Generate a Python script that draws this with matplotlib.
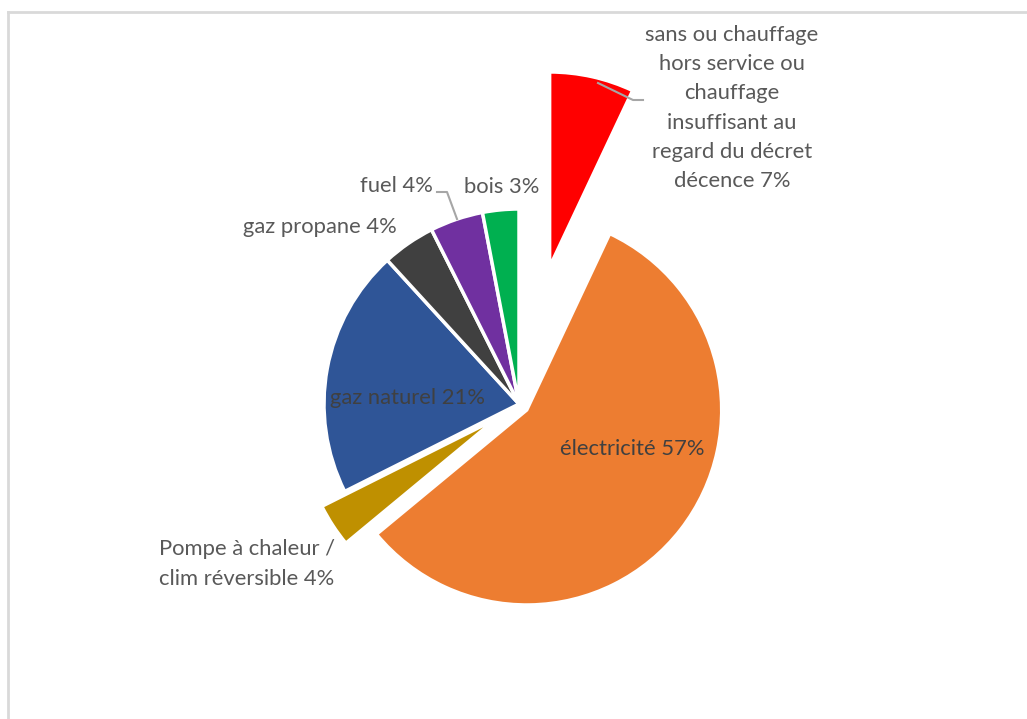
import matplotlib
matplotlib.use("Agg")
import matplotlib.pyplot as plt

# chauffage des logements
labels = [
    "sans ou chauffage\nhors service ou\nchauffage\ninsuffisant au\nregard du décret\ndécence",
    "électricité",
    "Pompe à chaleur /\nclim réversible",
    "gaz naturel",
    "gaz propane",
    "fuel",
    "bois",
]
values = [7.0, 57.0, 3.6, 20.6, 4.4, 4.4, 3.0]
colors = ["#ff0000", "#ed7d31", "#bf9000", "#2f5597", "#404040", "#7030a0", "#00b050"]
explode = [0.72, 0.05, 0.14, 0, 0, 0, 0]

W, H = 1027, 719
CX, CY, R = 519, 404, 195   # pie centre and radius in pixels


def px(x, y):
    return (x - CX) / R, (CY - y) / R


plt.rcParams['font.family'] = ['Lato', 'DejaVu Sans']
fig = plt.figure(figsize=(W / 100, H / 100), dpi=100)
ax = fig.add_axes([0, 0, 1, 1])
ax.axis('off')

wedges, _ = ax.pie(values, colors=colors, explode=explode, startangle=90,
                   counterclock=False, radius=1,
                   wedgeprops=dict(edgecolor='white', linewidth=2.5))
ax.set_xlim(-CX / R, (W - CX) / R)
ax.set_ylim((CY - H) / R, CY / R)

txt = [f"{l} {round(v)}%" for l, v in zip(labels, values)]
tc = "#595959"
fs = 15.8

ax.text(*px(732, 108), txt[0], ha='center', va='center', multialignment='center',
        fontsize=fs, color=tc, linespacing=1.58)
ax.text(*px(632, 449), txt[1], ha='center', va='center', fontsize=fs, color="#404040")
ax.text(*px(159, 564), txt[2], ha='left', va='center', multialignment='left',
        fontsize=fs, color=tc, linespacing=1.58)
ax.text(*px(408, 398), txt[3], ha='center', va='center', fontsize=fs, color="#404040")
ax.text(*px(320, 227), txt[4], ha='center', va='center', fontsize=fs, color=tc)
ax.text(*px(396, 186), txt[5], ha='center', va='center', fontsize=fs, color=tc)
ax.text(*px(502, 187), txt[6], ha='center', va='center', fontsize=fs, color=tc)

# leader lines
for pts in ([(598, 83), (633, 100), (643, 100)], [(437, 192), (447, 192), (457, 219)]):
    xs, ys = zip(*[px(*p) for p in pts])
    ax.plot(xs, ys, color="#a6a6a6", lw=1.5)

# chart area border
fig.add_artist(plt.Line2D([8 / W, 8 / W], [0, 1 - 12 / H], color="#d9d9d9", lw=2))
fig.add_artist(plt.Line2D([8 / W, 1], [1 - 12 / H, 1 - 12 / H], color="#d9d9d9", lw=2))

fig.savefig("out.png", dpi=100)
